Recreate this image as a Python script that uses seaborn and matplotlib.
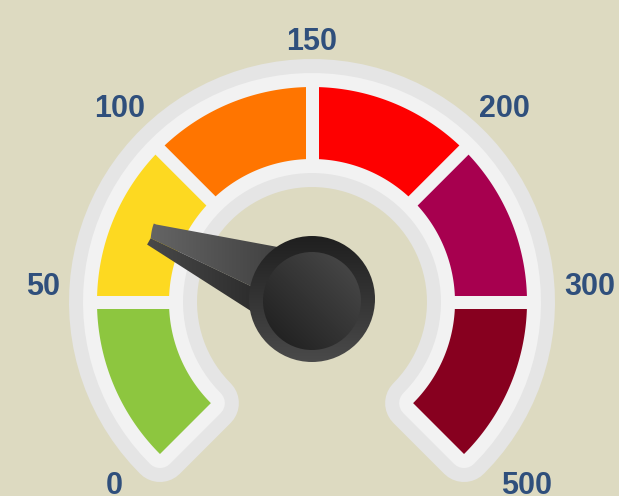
import numpy as np
import matplotlib
matplotlib.use("Agg")
import matplotlib.pyplot as plt
from matplotlib.patches import Polygon, Circle
from matplotlib.colors import LinearSegmentedColormap
import seaborn as sns

# данные шкалы
tick_values = [0, 50, 100, 150, 200, 300, 500]
tick_labels = ["0", "50", "100", "150", "200", "300", "500"]
band_colors = ["#8DC63F", "#FDD921", "#FF7500", "#FE0000", "#A7004F", "#87001F"]
needle_value = 74

sns.set_theme(style="white")
bg = "#DDDAC1"
palette = sns.color_palette(band_colors)

fig = plt.figure(figsize=(6.19, 4.96), dpi=100, facecolor=bg)
ax = fig.add_axes([0, 0, 1, 1])
ax.set_facecolor(bg)
ax.axis("off")

cx, cy = 312, 302
r_in, r_out = 143, 215
px = 0.72  # пиксели -> пункты

angles = np.linspace(-135, 135, len(tick_values))


def pt(r, th):
    t = np.radians(th)
    return cx + r * np.sin(t), cy - r * np.cos(t)


def sector(th0, th1, n=80):
    t = np.linspace(th0, th1, n)
    outer = np.column_stack(pt(r_out, t))
    inner = np.column_stack(pt(r_in, t[::-1]))
    return np.vstack([outer, inner])


def gradient(patch, c1, c2, ext, mode="v"):
    x0, x1, y0, y1 = ext
    g = np.linspace(0, 1, 256)
    if mode == "d":
        img = (g[None, :] + g[::-1, None]) / 2
    elif mode == "v":
        img = np.tile(g[:, None], (1, 256))
    else:
        img = np.tile(g[None, :], (256, 1))
    cmap = LinearSegmentedColormap.from_list("g", [c1, c2])
    im = ax.imshow(img, cmap=cmap, extent=(x0, x1, y1, y0), origin="upper",
                   zorder=patch.get_zorder(), interpolation="bilinear")
    im.set_clip_path(patch)


# рамка вокруг шкалы
whole = sector(angles[0], angles[-1])
ax.add_patch(Polygon(whole, closed=True, fc="#E5E5E5", ec="#E5E5E5",
                     lw=56 * px, joinstyle="round", zorder=1))
ax.add_patch(Polygon(whole, closed=True, fc="#F2F2F2", ec="#F2F2F2",
                     lw=28 * px, joinstyle="round", zorder=2))

# цветные сегменты
for i, col in enumerate(palette):
    ax.add_patch(Polygon(sector(angles[i], angles[i + 1]), closed=True,
                         fc=col, ec="none", zorder=3))

# разделители
for th in angles[1:-1]:
    x0, y0 = pt(r_in - 3, th)
    x1, y1 = pt(r_out + 3, th)
    ax.plot([x0, x1], [y0, y1], color="#F2F2F2", lw=13 * px,
            solid_capstyle="butt", zorder=4)

# подписи
cap_h = 22
for lab, th in zip(tick_labels, angles):
    x, y = pt(252, th)
    s, c = np.sin(np.radians(th)), np.cos(np.radians(th))
    ha = "right" if s < -0.1 else ("left" if s > 0.1 else "center")
    if abs(s) > 0.1:
        x -= 22 * s * c
        y -= 7
    if c < -0.1:
        y += cap_h - 1
    ax.text(x, y, lab, ha=ha, va="baseline", fontsize=22, fontweight="bold",
            color="#2F4F7C", family="Liberation Sans", zorder=5)

# стрелка
th_n = np.interp(needle_value, tick_values, angles)
t = np.radians(th_n)
d = np.array([np.sin(t), -np.cos(t)])       # к острию
q = np.array([-d[1], d[0]])
if q[1] > 0:
    q = -q                                  # q -> верхняя сторона
c0 = np.array([cx, 298])
L = 172
tip = c0 + d * L


def npt(s, w):
    # s - расстояние от острия к центру, w - поперечное смещение
    return tip - d * s + q * w


def half(s):
    return 11 + 0.196 * s


split = -0.35
tip_arc = [npt(-2.5 * np.cos(a), half(0) * (1 - a / (np.pi / 2)) + split * half(0) * (a / (np.pi / 2)))
           for a in np.linspace(0, np.pi / 2, 8)]
upper = Polygon(np.array([npt(L + 10, half(L + 10)), npt(0, half(0))]
                         + tip_arc
                         + [npt(L + 10, split * half(L + 10))]),
                closed=True, fc="none", ec="none", zorder=6)
lower = Polygon(np.array([npt(L + 10, split * half(L + 10)), npt(0, split * half(0)),
                          npt(-1, -half(0)), npt(L + 10, -half(L + 10))]),
                closed=True, fc="none", ec="none", zorder=6)
ax.add_patch(upper)
ax.add_patch(lower)
ext = (tip[0] - 10, cx, tip[1] - 30, cy + 40)
gradient(upper, "#676767", "#383838", ext, mode="h")
gradient(lower, "#4A4A4A", "#1E1E1E", ext, mode="h")

# ступица
hx, hy = 312, 299
hub = Circle((hx, hy), 63, fc="none", ec="none", zorder=7)
ax.add_patch(hub)
gradient(hub, "#1F1F1F", "#4A4A4A", (hx - 63, hx + 63, hy - 63, hy + 63))
cap = Circle((hx, hy + 2), 49, fc="none", ec="none", zorder=8)
ax.add_patch(cap)
gradient(cap, "#1C1C1C", "#4C4C4C", (hx - 49, hx + 49, hy - 47, hy + 51),
         mode="d")

ax.set_xlim(0, 619)
ax.set_ylim(496, 0)
ax.set_aspect("auto")

fig.savefig("out.png", dpi=100, facecolor=bg)
